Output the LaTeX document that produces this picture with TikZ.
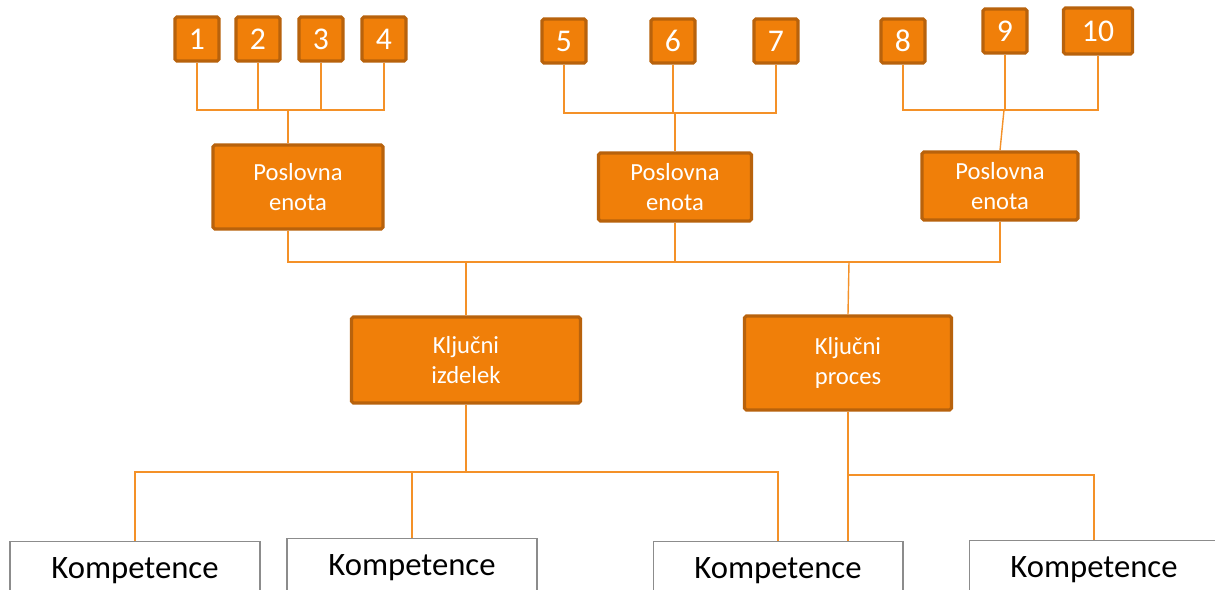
\documentclass[tikz,border=0pt]{standalone}
\usepackage{fontspec}
\setmainfont{Carlito}
\usepackage{xcolor}
\usepackage{tikz}
\usetikzlibrary{positioning, calc}

\definecolor{boxfill}{RGB}{240,127,9}
\definecolor{boxedge}{RGB}{184,98,12}
\definecolor{linkcol}{RGB}{244,145,40}
\definecolor{compedge}{RGB}{140,140,140}

\begin{document}
\begin{tikzpicture}[
      x=0.02cm, y=-0.02cm,
      numbox/.style={
          draw=boxedge, fill=boxfill, rectangle, rounded corners=1pt,
          minimum width=0.88cm, minimum height=0.88cm, inner sep=0pt,
          text=white, font=\fontsize{18}{20}\selectfont, line width=1.8pt
        },
      unit/.style={
          draw=boxedge, fill=boxfill, rectangle, rounded corners=1pt,
          align=center, inner sep=0pt, text=white,
          font=\fontsize{14}{17.5}\selectfont, line width=1.8pt
        },
      comp/.style={
          draw=compedge, fill=white, rectangle, minimum width=5cm,
          minimum height=1.18cm, inner sep=0pt,
          font=\fontsize{18.6}{20}\selectfont, line width=0.6pt
        },
      link/.style={draw=linkcol, line width=0.8pt}
    ]

    \clip (0,0) rectangle (1215,589);
    \fill[white] (0,0) rectangle (1215,589);

    % ── Numbered boxes (top) ──
    \node[numbox] (n1) at (197,39) {1};
    \node[numbox] (n2) at (258,39) {2};
    \node[numbox] (n3) at (321,39) {3};
    \node[numbox] (n4) at (384,39) {4};
    \node[numbox] (n5) at (564,41) {5};
    \node[numbox] (n6) at (673,41) {6};
    \node[numbox] (n7) at (776,41) {7};
    \node[numbox] (n8) at (903,41) {8};
    \node[numbox] (n9) at (1005,31) {9};
    \node[numbox, minimum width=1.38cm, minimum height=0.92cm] (n10) at (1098,31) {10};

    % ── Business units ──
    \node[unit, minimum width=3.4cm, minimum height=1.68cm] (pe1) at (298,187) {Poslovna\\enota};
    \node[unit, minimum width=3.06cm, minimum height=1.36cm] (pe2) at (675,187) {Poslovna\\enota};
    \node[unit, minimum width=3.12cm, minimum height=1.36cm] (pe3) at (1000,186) {Poslovna\\enota};

    % ── Key product / key process ──
    \node[unit, minimum width=4.58cm, minimum height=1.72cm] (ki) at (466,360) {Ključni\\izdelek};
    \node[unit, minimum width=4.14cm, minimum height=1.88cm] (kp) at (848,363) {Ključni\\proces};

    % ── Competences (bottom) ──
    \node[comp, anchor=north] (k1) at (135,541) {Kompetence};
    \node[comp, anchor=north] (k2) at (412,538) {Kompetence};
    \node[comp, anchor=north] (k3) at (778,541) {Kompetence};
    \node[comp, anchor=north] (k4) at (1094,540) {Kompetence};

    % ── Junction points ──
    \coordinate (bus1) at (288,110);
    \coordinate (bus2) at (675,113);
    \coordinate (bus3) at (1004,110);
    \coordinate (jki) at (466,262);
    \coordinate (jkp) at (849,262);
    \coordinate (jlow) at (466,472);
    \coordinate (jright) at (849,475);

    % ── Numbers to units ──
    \foreach \n in {n1,n2,n3,n4}
      \draw[link] (\n.south) |- (bus1);
    \draw[link] (bus1) -- (bus1 |- pe1.north);
    \foreach \n in {n5,n6,n7}
      \draw[link] (\n.south) |- (bus2);
    \draw[link] (bus2) -- (pe2.north);
    \foreach \n in {n8,n9,n10}
      \draw[link] (\n.south) |- (bus3);
    \draw[link] (bus3) -- (pe3.north);

    % ── Units to key product / process ──
    \draw[link] (bus1 |- pe1.south) |- (jki);
    \draw[link] (pe2.south) |- (jki);
    \draw[link] (pe2.south) |- (jkp);
    \draw[link] (pe3.south) |- (jkp);
    \draw[link] (jki) -- (ki.north);
    \draw[link] (jkp) -- (kp.north);

    % ── Down to competences ──
    \draw[link] (ki.south) -- (jlow);
    \draw[link] (k1.north) |- (jlow);
    \draw[link] (k2.north) |- (jlow);
    \draw[link] (k3.north) |- (jlow);
    \draw[link] (kp.south) -- (kp.south |- k3.north);
    \draw[link] (k4.north) |- (jright);

  \end{tikzpicture}
\end{document}
